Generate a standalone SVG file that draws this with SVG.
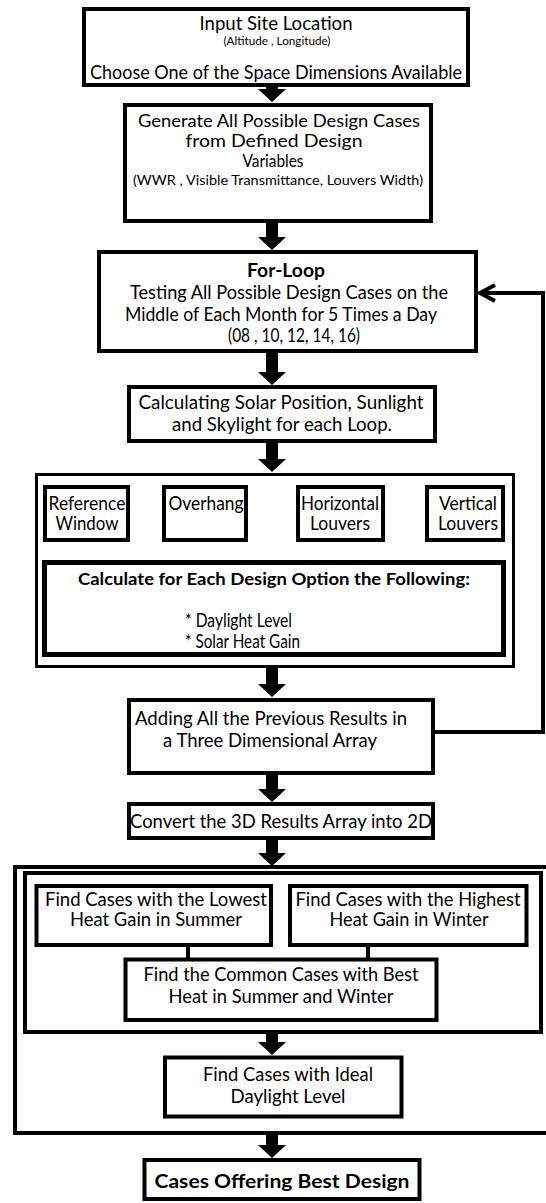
<svg xmlns="http://www.w3.org/2000/svg" width="546" height="1203" viewBox="0 0 546 1203">
<style>
.box{fill:#fff;stroke:#000;stroke-width:4}
.cont{fill:none;stroke:#000;stroke-width:3}
.t{font-family:Lato,"Liberation Sans",sans-serif;font-size:18.5px;fill:#000;text-anchor:middle}
.b{font-weight:bold}
.s{font-size:10.5px}
.m{font-size:14px}
.flow{stroke:#000;stroke-width:12;fill:none}
.thin{stroke:#000;stroke-width:4;fill:none}
</style>
<defs>
<marker id="ah" markerUnits="userSpaceOnUse" viewBox="0 0 13 28" refX="0" refY="14" markerWidth="13" markerHeight="28" orient="auto">
<path d="M0,0 L13,14 L0,28 z" fill="#000"/>
</marker>
</defs>

<g id="containerA"><rect class="cont" x="36.5" y="474.5" width="477" height="192"/></g>
<g id="containerB"><rect class="box" x="15" y="867" width="540" height="266"/></g>
<g id="containerC"><rect class="box" x="25" y="873" width="516" height="159"/></g>

<g id="connectors">
<line class="flow" x1="272" y1="87" x2="272" y2="89" marker-end="url(#ah)"/>
<line class="flow" x1="272" y1="223" x2="272" y2="237" marker-end="url(#ah)"/>
<line class="flow" x1="272" y1="353" x2="272" y2="372" marker-end="url(#ah)"/>
<line class="flow" x1="272" y1="443" x2="272" y2="459" marker-end="url(#ah)"/>
<line class="flow" x1="272" y1="668" x2="272" y2="684" marker-end="url(#ah)"/>
<line class="flow" x1="272" y1="775" x2="272" y2="789" marker-end="url(#ah)"/>
<line class="flow" x1="272" y1="840" x2="272" y2="853" marker-end="url(#ah)"/>
<line class="flow" x1="272" y1="1034" x2="272" y2="1042" marker-end="url(#ah)"/>
<line class="flow" x1="272" y1="1135" x2="272" y2="1145" marker-end="url(#ah)"/>
<path class="thin" d="M433,732 H543 V293 H480"/>
<path class="thin" d="M495,285 L480,293 L495,301"/>
<line class="thin" x1="188" y1="945" x2="188" y2="959"/>
<line class="thin" x1="368" y1="945" x2="368" y2="959"/>
</g>

<g id="n1">
<rect class="box" x="84" y="9" width="384" height="76"/>
<text class="t" x="276" y="30" style="font-size:19px" textLength="153" lengthAdjust="spacingAndGlyphs">Input Site Location</text>
<text class="t s" x="277" y="45" textLength="107" lengthAdjust="spacingAndGlyphs">(Altitude , Longitude)</text>
<text class="t" x="276" y="79" style="font-size:19px" textLength="372" lengthAdjust="spacingAndGlyphs">Choose One of the Space Dimensions Available</text>
</g>

<g id="n2">
<rect class="box" x="125" y="105" width="306" height="116"/>
<text class="t" x="279" y="127" style="font-size:17.5px" textLength="282" lengthAdjust="spacingAndGlyphs">Generate All Possible Design Cases</text>
<text class="t" x="274" y="147" style="font-size:17.5px" textLength="177" lengthAdjust="spacingAndGlyphs">from Defined Design</text>
<text class="t" x="273" y="167" style="font-size:17.5px" textLength="61" lengthAdjust="spacingAndGlyphs">Variables</text>
<text class="t m" x="278" y="185" textLength="290" lengthAdjust="spacingAndGlyphs">(WWR , Visible Transmittance, Louvers Width)</text>
</g>

<g id="n3">
<rect class="box" x="99" y="252" width="377" height="99"/>
<text class="t b" x="286" y="277" textLength="78" lengthAdjust="spacingAndGlyphs">For-Loop</text>
<text class="t" x="289" y="299" textLength="318" lengthAdjust="spacingAndGlyphs">Testing All Possible Design Cases on the</text>
<text class="t" x="281" y="321" textLength="312" lengthAdjust="spacingAndGlyphs">Middle of Each Month for 5 Times a Day</text>
<text class="t" x="294" y="342" textLength="132" lengthAdjust="spacingAndGlyphs">(08 , 10, 12, 14, 16)</text>
</g>

<g id="n4">
<rect class="box" x="129" y="387" width="306" height="54"/>
<text class="t" x="281" y="409" textLength="285" lengthAdjust="spacingAndGlyphs">Calculating Solar Position, Sunlight</text>
<text class="t" x="282" y="431" textLength="220" lengthAdjust="spacingAndGlyphs">and Skylight for each Loop.</text>
</g>

<g id="n5a">
<rect class="box" x="45" y="487" width="83" height="53"/>
<text class="t" x="87" y="510" textLength="77" lengthAdjust="spacingAndGlyphs">Reference</text>
<text class="t" x="87" y="530" textLength="63" lengthAdjust="spacingAndGlyphs">Window</text>
</g>
<g id="n5b">
<rect class="box" x="164" y="487" width="82" height="53"/>
<text class="t" x="206" y="510" textLength="75" lengthAdjust="spacingAndGlyphs">Overhang</text>
</g>
<g id="n5c">
<rect class="box" x="298" y="487" width="85" height="53"/>
<text class="t" x="340" y="510" textLength="78" lengthAdjust="spacingAndGlyphs">Horizontal</text>
<text class="t" x="340" y="530" textLength="60" lengthAdjust="spacingAndGlyphs">Louvers</text>
</g>
<g id="n5d">
<rect class="box" x="427" y="487" width="76" height="53"/>
<text class="t" x="468" y="510" textLength="58" lengthAdjust="spacingAndGlyphs">Vertical</text>
<text class="t" x="468" y="530" textLength="60" lengthAdjust="spacingAndGlyphs">Louvers</text>
</g>

<g id="n6">
<rect class="box" x="44.5" y="562.5" width="459" height="92" style="stroke-width:5"/>
<text class="t b" x="274" y="585" style="font-size:17px" textLength="392" lengthAdjust="spacingAndGlyphs">Calculate for Each Design Option the Following:</text>
<text class="t" x="185" y="627" style="text-anchor:start" textLength="107" lengthAdjust="spacingAndGlyphs">* Daylight Level</text>
<text class="t" x="185" y="648" style="text-anchor:start" textLength="115" lengthAdjust="spacingAndGlyphs">* Solar Heat Gain</text>
</g>

<g id="n7">
<rect class="box" x="129" y="700" width="304" height="73"/>
<text class="t" x="271" y="725" textLength="272" lengthAdjust="spacingAndGlyphs">Adding All the Previous Results in</text>
<text class="t" x="270" y="747" textLength="214" lengthAdjust="spacingAndGlyphs">a Three Dimensional Array</text>
</g>

<g id="n8">
<rect class="box" x="129" y="804" width="304" height="34"/>
<text class="t" x="281" y="828" textLength="302" lengthAdjust="spacingAndGlyphs">Convert the 3D Results Array into 2D</text>
</g>

<g id="n9">
<rect class="box" x="36.5" y="886" width="234.5" height="59"/>
<text class="t" x="156" y="906" textLength="222" lengthAdjust="spacingAndGlyphs">Find Cases with the Lowest</text>
<text class="t" x="156" y="926" textLength="172" lengthAdjust="spacingAndGlyphs">Heat Gain in Summer</text>
</g>

<g id="n10">
<rect class="box" x="290" y="886" width="236.5" height="59"/>
<text class="t" x="408" y="906" textLength="225" lengthAdjust="spacingAndGlyphs">Find Cases with the Highest</text>
<text class="t" x="409" y="926" textLength="159" lengthAdjust="spacingAndGlyphs">Heat Gain in Winter</text>
</g>

<g id="n11">
<rect class="box" x="125.5" y="959.5" width="311" height="60.5"/>
<text class="t" x="281" y="981" textLength="275" lengthAdjust="spacingAndGlyphs">Find the Common Cases with Best</text>
<text class="t" x="281" y="1003" textLength="225" lengthAdjust="spacingAndGlyphs">Heat in Summer and Winter</text>
</g>

<g id="n12">
<rect class="box" x="165" y="1057.5" width="236.5" height="59"/>
<text class="t" x="288" y="1081" textLength="170" lengthAdjust="spacingAndGlyphs">Find Cases with Ideal</text>
<text class="t" x="288" y="1103" textLength="115" lengthAdjust="spacingAndGlyphs">Daylight Level</text>
</g>

<g id="n13">
<rect class="box" x="144.5" y="1160" width="275" height="39"/>
<text class="t b" x="282" y="1188" style="font-size:19.5px" textLength="255" lengthAdjust="spacingAndGlyphs">Cases Offering Best Design</text>
</g>
</svg>
